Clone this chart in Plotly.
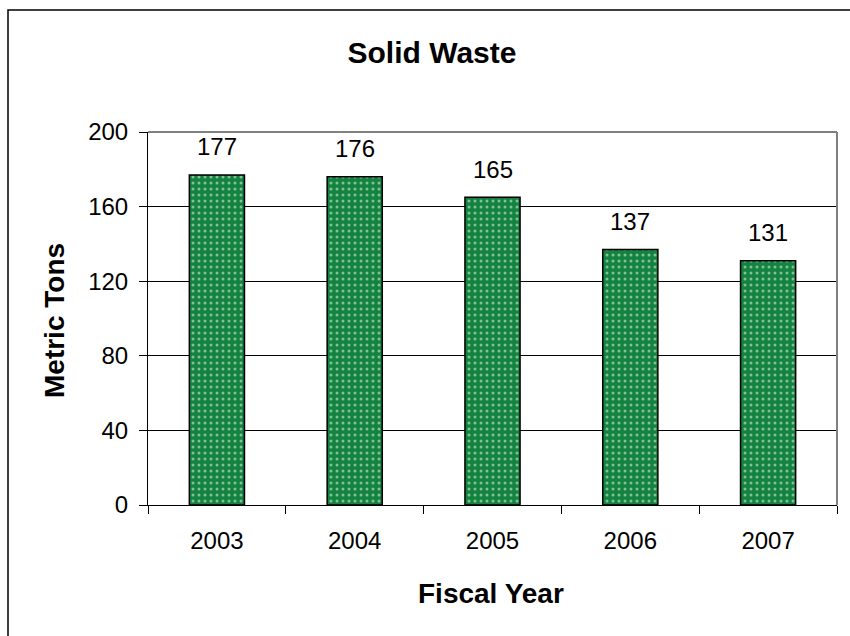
import plotly.graph_objects as go

years = ["2003", "2004", "2005", "2006", "2007"]
tons = [177, 176, 165, 137, 131]
y_ticks = [0, 40, 80, 120, 160, 200]

W, H = 850, 636
L, R, T, B = 148, 13, 132, 131
pw, ph = W - L - R, H - T - B
FAM = "Liberation Sans, Arial, sans-serif"
GREEN = "#13833f"

fig = go.Figure()
fig.add_trace(go.Bar(
    x=years, y=tons,
    marker=dict(
        color=GREEN,
        line=dict(color="black", width=1.5),
        pattern=dict(shape=".", fgcolor="#f2fbf5", bgcolor=GREEN, size=6, solidity=0.2),
    ),
    width=0.4,
    hoverinfo="skip",
))

for i, v in enumerate(tons):
    fig.add_annotation(x=i, y=v, text=str(v), showarrow=False, yanchor="middle",
                       yshift=28, font=dict(size=24, color="black", family=FAM))

fig.update_layout(
    width=W, height=H,
    margin=dict(l=L, r=R, t=T, b=B),
    paper_bgcolor="white", plot_bgcolor="white",
    showlegend=False,
    font=dict(family=FAM, color="black"),
    title=dict(text="<b>Solid Waste</b>", x=432 / W, xanchor="center", y=1 - 52 / H, yanchor="middle",
               xref="container", yref="container",
               font=dict(size=30, family=FAM, color="black")),
    xaxis=dict(
        type="category", showgrid=False, showline=True, linecolor="black", linewidth=1,
        ticks="outside", tickson="boundaries", ticklen=8, tickcolor="black", tickwidth=1,
        tickfont=dict(size=24), range=[-0.5, 4.5], ticklabelstandoff=14,
    ),
    yaxis=dict(
        range=[0, 200], tickvals=y_ticks, showgrid=True, gridcolor="black", gridwidth=1,
        showline=True, linecolor="black", linewidth=1, ticks="outside", ticklen=8,
        tickcolor="black", tickfont=dict(size=24), zeroline=False, ticklabelstandoff=6,
    ),
)

# axis titles
fig.add_annotation(text="<b>Metric Tons</b>", xref="paper", yref="paper",
                   x=(54 - L) / pw, y=(H - B - 321) / ph, textangle=-90, showarrow=False,
                   xanchor="center", yanchor="middle", font=dict(size=28, color="black", family=FAM))
fig.add_annotation(text="<b>Fiscal Year</b>", xref="paper", yref="paper",
                   x=(491 - L) / pw, y=-(593 - (H - B)) / ph, showarrow=False,
                   xanchor="center", yanchor="middle", font=dict(size=28, color="black", family=FAM))

# plot area top/right border (gray)
fig.add_shape(type="line", xref="paper", yref="paper", x0=0, x1=1, y0=1, y1=1,
              line=dict(color="#808080", width=2))
fig.add_shape(type="line", xref="paper", yref="paper", x0=1, x1=1, y0=0, y1=1,
              line=dict(color="#808080", width=2))

# outer chart frame
fig.add_shape(type="rect", xref="paper", yref="paper",
              x0=(8 - L) / pw, x1=(W + 5 - L) / pw,
              y0=-(H + 5 - (H - B)) / ph, y1=1 + (T - 10) / ph,
              line=dict(color="black", width=1.5), layer="below")

fig.write_html("out.html", config={"displayModeBar": False},
               post_script="document.body.style.margin='0';")
